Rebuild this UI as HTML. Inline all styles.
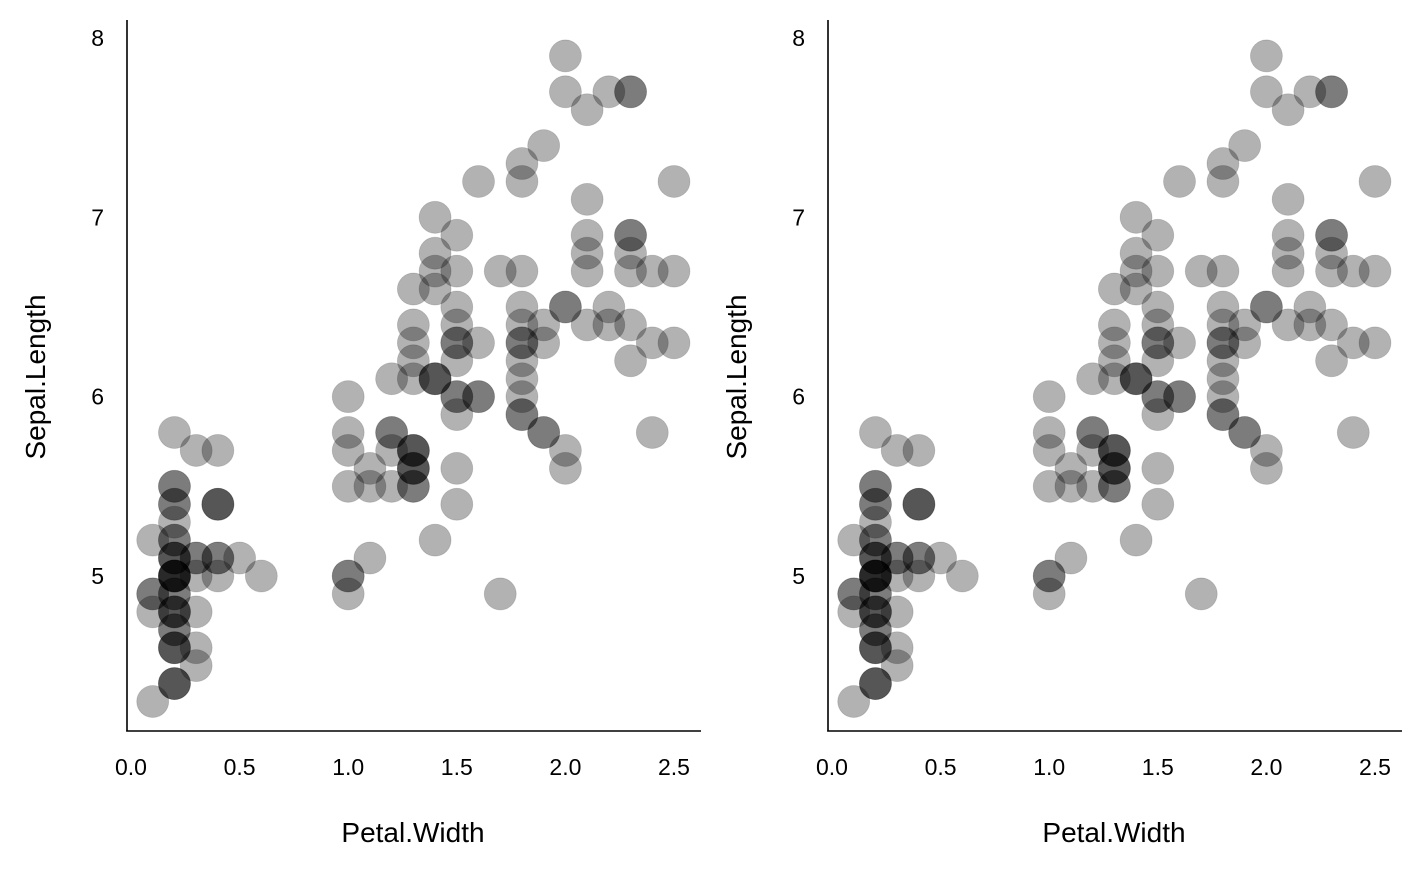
<!DOCTYPE html>
<html><head><meta charset="utf-8"><style>
html,body{margin:0;padding:0;background:#fff;}
svg{display:block;font-family:"Liberation Sans",Arial,sans-serif;}
</style></head><body>
<svg id="s" width="1425" height="870" xmlns="http://www.w3.org/2000/svg">
<g id="g0"></g><g id="g1"></g>
</svg>
<script>
const d=[[5.1,.2],[4.9,.2],[4.7,.2],[4.6,.2],[5.0,.2],[5.4,.4],[4.6,.3],[5.0,.2],[4.4,.2],[4.9,.1],[5.4,.2],[4.8,.2],[4.8,.1],[4.3,.1],[5.8,.2],[5.7,.4],[5.4,.4],[5.1,.3],[5.7,.3],[5.1,.3],[5.4,.2],[5.1,.4],[4.6,.2],[5.1,.5],[4.8,.2],[5.0,.2],[5.0,.4],[5.2,.2],[5.2,.2],[4.7,.2],[4.8,.2],[5.4,.4],[5.2,.1],[5.5,.2],[4.9,.2],[5.0,.2],[5.5,.2],[4.9,.1],[4.4,.2],[5.1,.2],[5.0,.3],[4.5,.3],[4.4,.2],[5.0,.6],[5.1,.4],[4.8,.3],[5.1,.2],[4.6,.2],[5.3,.2],[5.0,.2],
[7.0,1.4],[6.4,1.5],[6.9,1.5],[5.5,1.3],[6.5,1.5],[5.7,1.3],[6.3,1.6],[4.9,1.0],[6.6,1.3],[5.2,1.4],[5.0,1.0],[5.9,1.5],[6.0,1.0],[6.1,1.4],[5.6,1.3],[6.7,1.4],[5.6,1.5],[5.8,1.0],[6.2,1.5],[5.6,1.1],[5.9,1.8],[6.1,1.3],[6.3,1.5],[6.1,1.2],[6.4,1.3],[6.6,1.4],[6.8,1.4],[6.7,1.7],[6.0,1.5],[5.7,1.0],[5.5,1.1],[5.5,1.0],[5.8,1.2],[6.0,1.6],[5.4,1.5],[6.0,1.6],[6.7,1.5],[6.3,1.3],[5.6,1.3],[5.5,1.3],[5.5,1.2],[6.1,1.4],[5.8,1.2],[5.0,1.0],[5.6,1.3],[5.7,1.2],[5.7,1.3],[6.2,1.3],[5.1,1.1],[5.7,1.3],
[6.3,2.5],[5.8,1.9],[7.1,2.1],[6.3,1.8],[6.5,2.2],[7.6,2.1],[4.9,1.7],[7.3,1.8],[6.7,1.8],[7.2,2.5],[6.5,2.0],[6.4,1.9],[6.8,2.1],[5.7,2.0],[5.8,2.4],[6.4,2.3],[6.5,1.8],[7.7,2.2],[7.7,2.3],[6.0,1.5],[6.9,2.3],[5.6,2.0],[7.7,2.0],[6.3,1.8],[6.7,2.1],[7.2,1.8],[6.2,1.8],[6.1,1.8],[6.4,2.1],[7.2,1.6],[7.4,1.9],[7.9,2.0],[6.4,2.2],[6.3,1.5],[6.1,1.4],[7.7,2.3],[6.3,2.4],[6.4,1.8],[6.0,1.8],[6.9,2.1],[6.7,2.4],[6.9,2.3],[5.8,1.9],[6.8,2.3],[6.7,2.5],[6.7,2.3],[6.3,1.9],[6.5,2.0],[6.2,2.3],[5.9,1.8]];
const NS="http://www.w3.org/2000/svg";
function el(t,a,p,txt){const e=document.createElementNS(NS,t);for(const k in a)e.setAttribute(k,a[k]);if(txt!==undefined)e.textContent=txt;p.appendChild(e);return e;}
[0,701].forEach((off,i)=>{
 const g=document.getElementById('g'+i);
 const X=v=>131+off+v*217.2, Y=v=>38+(8-v)*179.33;
 d.forEach(([y,x])=>el('circle',{cx:X(x),cy:Y(y),r:16,fill:'rgba(0,0,0,0.3)',stroke:'rgba(0,0,0,0.15)','stroke-width':0.8},g));
 el('line',{x1:127+off,y1:20,x2:127+off,y2:731.5,stroke:'#000','stroke-width':1.6},g);
 el('line',{x1:126.2+off,y1:731,x2:701+off,y2:731,stroke:'#000','stroke-width':1.6},g);
 [0,0.5,1,1.5,2,2.5].forEach(v=>el('text',{x:X(v),y:775,'text-anchor':'middle','font-size':23},g,v.toFixed(1)));
 [5,6,7,8].forEach(v=>el('text',{x:104+off,y:Y(v)+8,'text-anchor':'end','font-size':23},g,String(v)));
 el('text',{x:413+off,y:842,'text-anchor':'middle','font-size':28},g,'Petal.Width');
 el('text',{x:0,y:0,'text-anchor':'middle','font-size':28,transform:`translate(${45+off},377) rotate(-90)`},g,'Sepal.Length');
});
</script>
</body></html>
